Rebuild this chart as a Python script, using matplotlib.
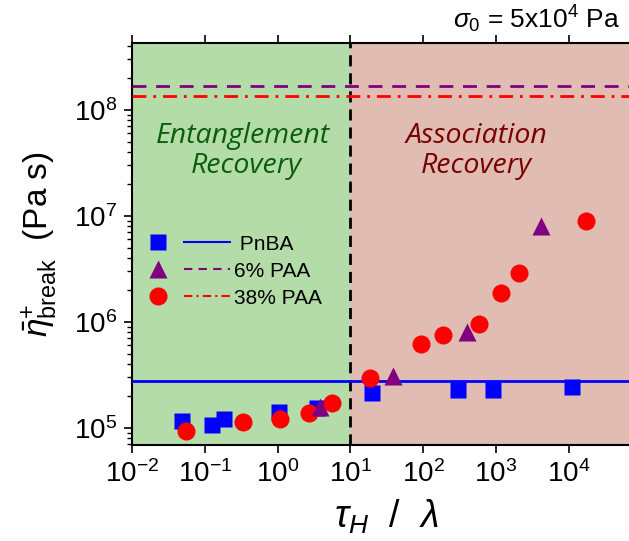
import matplotlib
matplotlib.use('Agg')
import matplotlib.pyplot as plt
from matplotlib.legend_handler import HandlerTuple
from matplotlib.lines import Line2D

plt.rcParams['font.family'] = ['Liberation Sans', 'DejaVu Sans']
plt.rcParams['mathtext.fontset'] = 'custom'
plt.rcParams['mathtext.rm'] = 'Liberation Sans'
plt.rcParams['mathtext.it'] = 'Liberation Sans:italic'
plt.rcParams['mathtext.bf'] = 'Liberation Sans:bold'

# PnBA (squares)
pnba_x = [0.048, 0.125, 0.185, 1.05, 3.5, 19.8, 300, 900, 1.1e4]
pnba_y = [1.17e5, 1.07e5, 1.22e5, 1.42e5, 1.53e5, 2.12e5, 2.30e5, 2.27e5, 2.42e5]

# 6% PAA (triangles)
paa6_x = [3.8, 38, 400, 4100]
paa6_y = [1.57e5, 3.1e5, 8.1e5, 8.1e6]

# 38% PAA (circles)
paa38_x = [0.055, 0.33, 1.09, 2.7, 5.6, 18.5, 94, 190, 580, 1170, 2070, 1.7e4]
paa38_y = [9.4e4, 1.15e5, 1.22e5, 1.39e5, 1.71e5, 2.95e5, 6.15e5, 7.5e5,
           9.6e5, 1.87e6, 2.92e6, 8.96e6]

# plateau levels
pnba_level = 2.77e5
paa6_level = 1.68e8
paa38_level = 1.36e8

crossover = 10

fig = plt.figure(figsize=(6.29, 5.41), dpi=100)
ax = fig.add_axes([0.2099, 0.1774, 0.81, 0.7431])
ax.set_xscale('log')
ax.set_yscale('log')
ax.set_xlim(1e-2, 1e5)
ax.set_ylim(6.9e4, 4.28e8)

ax.axvspan(1e-2, crossover, color='#b3dca8', zorder=0, lw=0)
ax.axvspan(crossover, 1e5, color='#e0bcb2', zorder=0, lw=0)
ax.axvline(crossover, color='black', ls=(0, (4, 2.5)), lw=2, zorder=2)

ax.axhline(pnba_level, color='#0000ff', lw=2, zorder=3)
ax.axhline(paa6_level, color='#800080', lw=2, ls=(0, (5, 3.5)), zorder=3)
ax.axhline(paa38_level, color='#ff0000', lw=2, ls=(0, (5, 2.5, 1, 2.5)), zorder=3)

ax.plot(pnba_x, pnba_y, 's', color='#0000ff', ms=11, mec='none', zorder=4)
ax.plot(paa38_x, paa38_y, 'o', color='#ff0000', ms=13, mec='none', zorder=5)
ax.plot(paa6_x, paa6_y, '^', color='#800080', ms=13, mec='none', zorder=6)

# regime labels
region_font = dict(fontsize=20.5, family='Open Sans', style='italic',
                   ha='center', va='baseline')
ax.text(0.33, 4.9e7, 'Entanglement', color='#0b5e0b', **region_font)
ax.text(0.37, 2.55e7, 'Recovery', color='#0b5e0b', **region_font)
ax.text(537, 4.9e7, 'Association', color='#7a0000', **region_font)
ax.text(545, 2.55e7, 'Recovery', color='#7a0000', **region_font)

h_sq = Line2D([], [], marker='s', color='#0000ff', ms=11, ls='none', mec='none')
h_tr = Line2D([], [], marker='^', color='#800080', ms=13, ls='none', mec='none')
h_ci = Line2D([], [], marker='o', color='#ff0000', ms=13, ls='none', mec='none')
l_b = Line2D([], [], color='#0000ff', lw=1.5)
l_p = Line2D([], [], color='#800080', lw=1.5, ls=(0, (4, 3)))
l_r = Line2D([], [], color='#ff0000', lw=1.5, ls=(0, (4, 2, 1, 2)))
ax.legend([(h_sq, l_b), (h_tr, l_p), (h_ci, l_r)],
          [' PnBA', '6% PAA', '38% PAA'],
          handler_map={tuple: HandlerTuple(ndivide=None, pad=0.1)},
          handlelength=4.6, fontsize=15, frameon=False, labelspacing=0.38,
          handletextpad=0.15, borderaxespad=0, borderpad=0,
          loc='upper left', bbox_to_anchor=(0.005, 0.523))

ax.tick_params(axis='both', which='major', direction='out', length=6, width=1.2,
               labelsize=20, pad=5)
ax.tick_params(axis='both', which='minor', direction='out', length=3.5, width=1)
ax.xaxis.set_ticks_position('both')
for s in ['left', 'bottom', 'top']:
    ax.spines[s].set_linewidth(1.5)
ax.spines['right'].set_visible(False)
ax.set_xticks([1e-2, 1e-1, 1e0, 1e1, 1e2, 1e3, 1e4])

ax.set_xlabel(r'$\tau_H\ \ /\ \ \lambda$', fontsize=27, labelpad=7)
ax.set_ylabel(r'$\bar{\eta}^{+}_{\mathrm{break}}$  (Pa s)', fontsize=24, labelpad=10)

fig.text(0.985, 0.948, r'$\sigma_0$ = 5x10$^4$ Pa', ha='right', va='baseline',
         fontsize=19)

fig.savefig('out.png', dpi=100)
